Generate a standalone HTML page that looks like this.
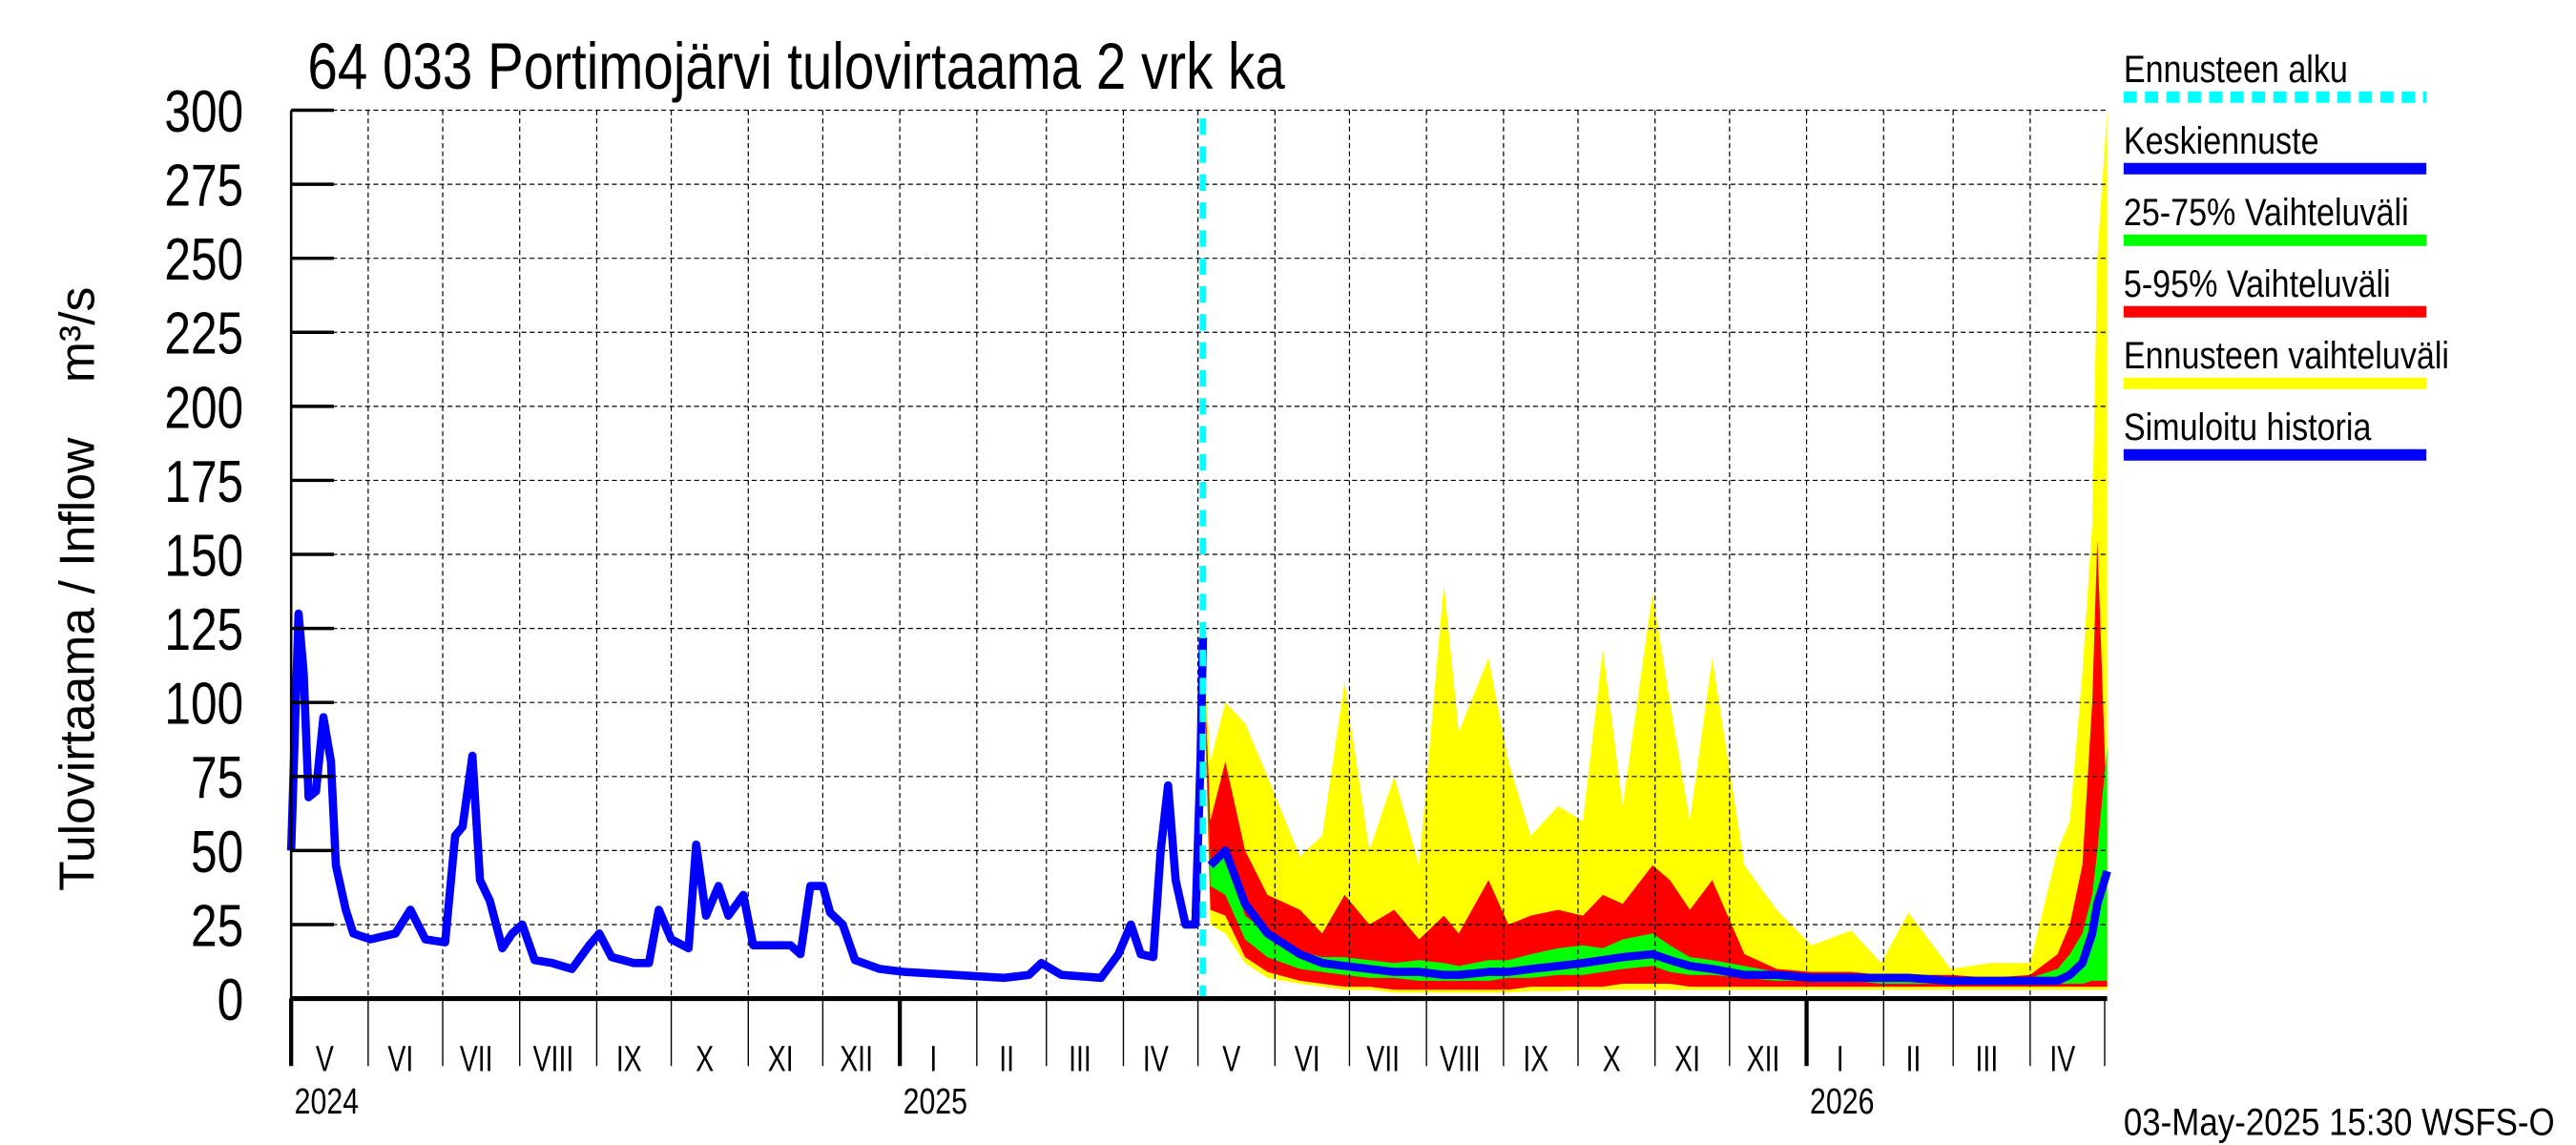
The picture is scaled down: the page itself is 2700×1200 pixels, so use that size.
<!DOCTYPE html>
<html><head><meta charset="utf-8"><style>
html,body{margin:0;padding:0;background:#fff;}
svg{display:block;font-family:"Liberation Sans",sans-serif;}
</style></head><body>
<svg id="chart" width="2700" height="1200" viewBox="0 0 1566 696" xmlns="http://www.w3.org/2000/svg">
<rect width="1566" height="696" fill="#fff"/>
<g id="bands"></g>
<g id="grid"></g>
<g id="lines"></g>
<g id="axes"></g>
<text x="0" y="0" font-size="40" transform="translate(187,54) scale(0.82,1)">64 033 Portimojärvi tulovirtaama 2 vrk ka</text>
<text transform="translate(57,358) rotate(-90)" text-anchor="middle" font-size="30" xml:space="preserve">Tulovirtaama / Inflow    m³/s</text>
<text x="0" y="0" font-size="23" transform="translate(1291,690) scale(0.88,1)">03-May-2025 15:30 WSFS-O</text>
<g id="legend"></g>
</svg>
<script>
const yTicks=[0,25,50,75,100,125,150,175,200,225,250,275,300];
const monthLabels=["V","VI","VII","VIII","IX","X","XI","XII","I","II","III","IV","V","VI","VII","VIII","IX","X","XI","XII","I","II","III","IV"];
const monthDays=[0,31,61,92,123,153,184,214,245,276,304,335,365,396,426,457,488,518,549,579,610,641,669,700,730];
const yearLabels=["2024","2025","2026"];
const yearDays=[0,245,610];
const forecastStart=367;
const histDays=[0,3,5,7,10,13,16,18,22,25,32,42,48,54,62,66,69,73,76,80,85,89,93,98,105,113,120,124,129,138,144,148,153,160,163,167,172,176,182,186,194,201,205,209,214,217,222,227,237,247,267,287,297,302,310,326,333,338,342,347,350,353,356,360,364,366,367];
const histFlow=[50,130,110,68,70,95,80,45,30,22,20,22,30,20,19,55,58,82,40,33,17,22,25,13,12,10,18,22,14,12,12,30,20,17,52,28,38,28,35,18,18,18,15,38,38,29,25,13,10,9,8,7,8,12,8,7,15,25,15,14,50,72,40,25,25,80,122];
const fDays=[367,370,376,384,393,406,415,424,434,444,454,464,470,482,490,499,510,520,528,536,548,555,563,572,585,598,612,628,640,651,668,684,700,711,716,721,725,727,731];
const fMax=[122,80,100,93,75,48,55,107,50,75,45,140,90,115,80,55,65,60,118,65,137,100,60,115,45,30,18,23,12,29,10,12,12,50,60,110,160,250,300];
const f95=[122,60,80,50,35,30,22,35,25,30,20,28,22,40,25,28,30,28,35,32,45,40,30,40,15,10,9,9,8,8,8,7,8,15,25,45,100,155,60];
const f75=[122,45,50,28,22,16,14,14,13,12,13,12,11,13,13,15,17,18,17,20,22,18,14,13,11,9,8,8,8,7,7,7,7,10,15,22,35,50,85];
const fMed=[122,45,50,32,22,15,12,11,10,9,9,8,8,9,9,10,11,12,13,14,15,13,11,10,8,8,7,7,7,7,6,6,6,6,8,12,22,32,43];
const f25=[122,38,35,20,14,10,9,8,7,7,6,6,6,6,7,7,8,8,9,10,11,9,8,8,7,6,6,6,5,5,5,5,5,5,5,5,6,6,6];
const f05=[122,30,28,14,9,6,5,4,4,3,3,3,3,3,3,4,4,4,4,5,5,5,4,4,4,4,4,4,4,4,4,4,4,4,4,4,4,4,4];
const fMin=[122,25,22,12,7,5,4,3,3,2,2,2,2,2,2,2.5,2.5,3,3,3,3,3,3,3,3,3,3,3,3,3,3,3,3,3,3,3,3,3,3];
const legendItems=["Ennusteen alku","Keskiennuste","25-75% Vaihteluväli","5-95% Vaihteluväli","Ennusteen vaihteluväli","Simuloitu historia"];
const legendColors=["#00ffff","#0000ff","#00ff00","#ff0000","#ffff00","#0000ff"];

const NS="http://www.w3.org/2000/svg";
const X0=177,X1=1281,Y0=607,Y1=67;
const xS=d=>X0+(X1-X0)*d/731;
const yS=v=>Y0-(Y0-Y1)*v/300;
function mk(tag,attrs,parent){const e=document.createElementNS(NS,tag);for(const k in attrs)e.setAttribute(k,attrs[k]);parent.appendChild(e);return e;}
const gB=document.getElementById('bands'),gG=document.getElementById('grid'),gL=document.getElementById('lines'),gA=document.getElementById('axes'),gLeg=document.getElementById('legend');

function band(up,lo,color,name){
  let d="M"+fDays.map((t,i)=>xS(t).toFixed(1)+","+yS(up[i]).toFixed(1)).join("L");
  for(let i=fDays.length-1;i>=0;i--)d+="L"+xS(fDays[i]).toFixed(1)+","+yS(lo[i]).toFixed(1);
  const p=mk('path',{d:d+"Z",fill:color},gB);
  
  
}
band(fMax,fMin,"#ffff00","forecast-range-band");
band(f95,f05,"#ff0000","band-5-95");
band(f75,f25,"#00ff00","band-25-75");

yTicks.forEach(v=>{
  if(v>0){const l=mk('line',{x1:X0,x2:X1,y1:yS(v),y2:yS(v),stroke:"#000","stroke-width":0.7,"stroke-dasharray":"3,2"},gG);
  
  }
  const tk=mk('line',{x1:X0,x2:X0+26,y1:yS(v),y2:yS(v),stroke:"#000","stroke-width":2},gA);
  
  
  const t=mk('text',{x:0,y:0,"font-size":36,"text-anchor":"end",transform:`translate(148,${yS(v)+13}) scale(0.8,1)`},gA);
  t.textContent=v;
  
  
});
monthDays.forEach((d,i)=>{
  const x=xS(d);
  if(i>0&&i<monthDays.length-1){const l=mk('line',{x1:x,x2:x,y1:Y1,y2:Y0,stroke:"#000","stroke-width":0.7,"stroke-dasharray":"3,2"},gG);
  
  }
  const isYear=yearDays.includes(d);
  const tk=mk('line',{x1:x,x2:x,y1:Y0,y2:648,stroke:"#000","stroke-width":isYear?2.5:0.8},gA);
  
  
  if(i<monthLabels.length){
    const t=mk('text',{x:0,y:0,"font-size":22,"text-anchor":"middle",transform:`translate(${(x+xS(monthDays[i+1]))/2-3},${651}) scale(0.75,1)`},gA);
    t.textContent=monthLabels[i];
    
    
  }
});
yearDays.forEach((d,i)=>{
  const t=mk('text',{x:0,y:0,"font-size":22,transform:`translate(${xS(d)+2},${677}) scale(0.8,1)`},gA);
  t.textContent=yearLabels[i];
  
  
});

function line(days,vals,name){
  const p=mk('polyline',{points:days.map((t,i)=>xS(t).toFixed(1)+","+yS(vals[i]).toFixed(1)).join(" "),fill:"none",stroke:"#0000ff","stroke-width":5,"stroke-linejoin":"round"},gL);
  
  
}
line(histDays,histFlow,"simulated-history-line");
line(fDays.slice(1),fMed.slice(1),"median-forecast-line");
const fs=mk('line',{x1:xS(forecastStart),x2:xS(forecastStart),y1:Y1+5,y2:Y0,stroke:"#00ffff","stroke-width":4,"stroke-dasharray":"10,7"},gL);



const ax1=mk('line',{x1:X0,x2:X0,y1:Y1,y2:Y0,stroke:"#000","stroke-width":1.5},gA);


const ax2=mk('line',{x1:X0,x2:X1,y1:Y0,y2:Y0,stroke:"#000","stroke-width":3},gA);



legendItems.forEach((s,i)=>{
  const y=50+i*43.5;
  const t=mk('text',{x:0,y:0,"font-size":23,transform:`translate(1291,${y}) scale(0.86,1)`},gLeg);
  t.textContent=s;
  
  
  const a={x1:1291,x2:1475,y1:y+9,y2:y+9,stroke:legendColors[i],"stroke-width":7};
  if(i===0)a["stroke-dasharray"]="8,5";
  const l=mk('line',a,gLeg);
  
  
});
</script>
</body></html>
